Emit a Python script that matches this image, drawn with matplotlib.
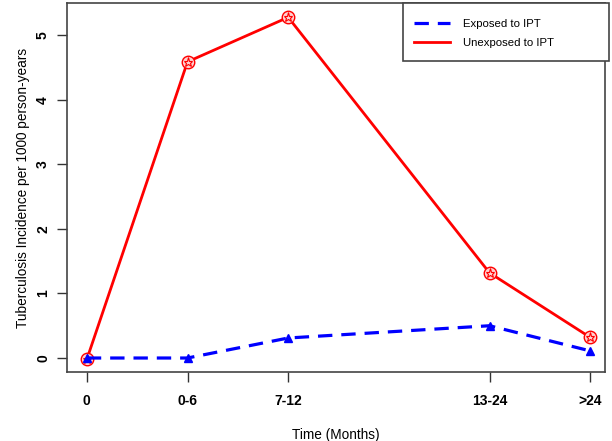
import matplotlib
matplotlib.use("Agg")
import matplotlib.pyplot as plt
from matplotlib.lines import Line2D
from matplotlib.patches import Rectangle

plt.rcParams["font.family"] = ["Liberation Sans", "DejaVu Sans"]

# time categories (positions follow the original uneven spacing)
categories = ["0", "0-6", "7-12", "13-24", ">24"]
cat_pos = [0, 1, 2, 4, 5]
exposed = [0.0, 0.0, 0.31, 0.50, 0.11]
unexposed = [-0.02, 4.59, 5.28, 1.32, 0.32]

BLUE_DASH = (0, (4.5, 2.8))

fig = plt.figure(figsize=(6.12, 4.41), dpi=100)
ax = fig.add_axes([0.109, 0.156, 0.880, 0.837])

ax.plot(cat_pos, unexposed, color="red", lw=2.0, zorder=2)
ax.plot(cat_pos, unexposed, ls="none", marker="o", ms=9, mfc="#ffd0d0",
        mec="red", mew=1.0, zorder=3)
ax.plot(cat_pos, unexposed, ls="none", marker="*", ms=6.5, mfc="none",
        mec="red", mew=0.8, zorder=4)

ax.plot(cat_pos, exposed, color="blue", lw=2.3, ls=BLUE_DASH, zorder=5)
ax.plot(cat_pos, exposed, ls="none", marker="^", ms=6, color="blue", zorder=6)

ax.set_xlim(-0.2, 5.15)
ax.set_ylim(-0.22, 5.5)
ax.set_xticks(cat_pos)
ax.set_xticklabels(categories, fontweight="bold", fontsize=10)
ax.set_yticks([0, 1, 2, 3, 4, 5])
ax.set_yticklabels(["0", "1", "2", "3", "4", "5"], fontweight="bold",
                   fontsize=10, rotation=90, va="center")
ax.tick_params(axis="both", length=7, width=1, color="#333333")
ax.tick_params(axis="x", pad=9)
ax.tick_params(axis="y", pad=5)
for s in ax.spines.values():
    s.set_color("#444444")
    s.set_linewidth(1.2)

ax.set_xlabel("Time (Months)", fontsize=9.8, labelpad=14)
ax.set_ylabel("Tuberculosis Incidence per 1000 person-years", fontsize=9.8,
              labelpad=4)

# legend box drawn separately (R-style wide box)
fig.patches.append(Rectangle((0.6585, 0.862), 0.3365, 0.131,
                             transform=fig.transFigure, fill=True,
                             facecolor="white", edgecolor="#444444",
                             lw=1.2, zorder=10))
handles = [Line2D([], [], color="blue", lw=2.3, ls=BLUE_DASH),
           Line2D([], [], color="red", lw=2.0)]
leg = fig.legend(handles, ["Exposed to IPT", "Unexposed to IPT"],
                 loc="upper left", bbox_to_anchor=(0.6585, 0.982),
                 fontsize=8.2, frameon=False, handlelength=3.1,
                 borderpad=1.0, handletextpad=1.2, labelspacing=0.75,
                 borderaxespad=0)
leg.set_zorder(11)

fig.savefig("out.png", dpi=100)
